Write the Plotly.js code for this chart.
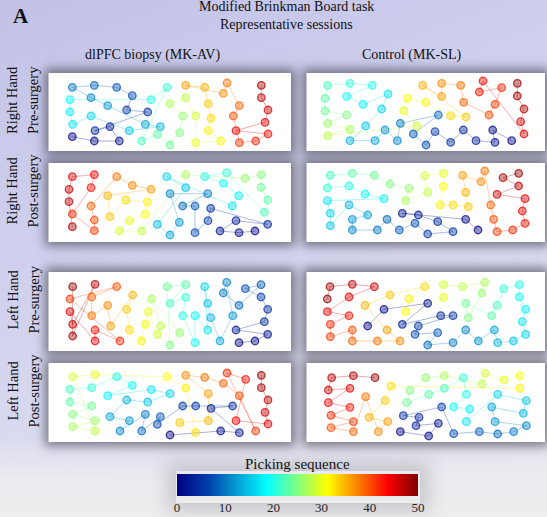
<!DOCTYPE html>
<html><head><meta charset="utf-8">
<script src="https://cdn.plot.ly/plotly-3.0.1.min.js"></script>
<style>
html,body{margin:0;padding:0;}
body{width:547px;height:517px;overflow:hidden;position:relative;
background:
 linear-gradient(to bottom, rgba(236,236,240,0) 84%, rgba(236,236,240,0.95) 93%, rgba(238,238,240,1) 100%),
 linear-gradient(160deg,#c2c2e8 0%,#cfcfee 35%,#dadaf0 65%,#e4e4ee 100%);}
.sh{position:absolute;background:#fff;box-shadow:0 0 10px 4px rgba(55,55,65,0.62);}
.cbs{position:absolute;background:rgba(0,0,0,0);box-shadow:0 0 18px 9px rgba(110,110,120,0.28);}
#plot{position:absolute;left:0;top:0;width:547px;height:517px;}
</style></head><body>
<div id="shadows"></div>
<div id="plot"></div>
<script>
// ---- text ----
const colLabels = ['dlPFC biopsy (MK-AV)', 'Control (MK-SL)'];
const rowLabelsTop = ['Right Hand', 'Right Hand', 'Left Hand', 'Left Hand'];
const rowLabelsBottom = ['Pre-surgery', 'Post-surgery', 'Pre-surgery', 'Post-surgery'];
const colorbarTitle = 'Picking sequence';
const colorbarTicks = [0, 10, 20, 30, 40, 50];

// ---- board positions in picking order (array index = picking sequence) ----
const p1X = [97,163,238,210,165,323,260,277,230,163,97,153,203,316,361,268,153,98,90,90,333,381,305,352,390,419,428,390,437,467,467,542,505,513,505,494,437,550,561,598,580,598,647,684,588,675,684,664,664];
const p1Y = [200,213,213,170,182,126,120,77,52,46,52,83,107,163,170,182,138,163,126,89,89,52,213,193,225,188,138,101,83,138,218,213,182,145,101,52,46,70,39,107,138,218,213,192,182,157,120,83,46];

const p2X = [650,593,600,543,505,467,420,393,355,430,316,307,270,240,165,212,260,279,204,155,232,165,98,90,90,155,98,165,98,365,326,338,392,467,513,383,440,440,497,506,582,600,620,553,564,687,677,687,667,667];
const p2Y = [212,180,217,212,180,217,185,225,192,135,160,212,180,212,212,168,117,72,103,79,46,40,46,85,123,135,160,178,197,168,122,85,97,137,141,46,79,40,46,97,135,103,53,66,33,192,155,117,78,40];

const p3X = [645,597,540,588,683,512,504,465,465,428,503,390,418,390,352,437,380,577,596,550,494,560,673,683,663,663,615,437,305,238,268,315,322,258,210,203,333,277,230,153,163,163,97,153,163,97,87,87,97];
const p3Y = [213,218,213,182,193,145,182,218,138,138,101,101,187,225,193,83,50,138,107,70,50,38,157,120,82,44,55,44,213,213,182,163,126,120,170,107,88,76,50,138,180,212,162,83,44,50,88,125,200];

const p4X = [549,512,322,370,428,474,398,360,313,276,247,172,172,218,162,106,106,97,267,210,162,97,106,172,238,285,342,332,398,389,445,445,436,474,520,512,503,558,569,587,596,606,653,690,682,690,606,671,624,671];
const p4Y = [210,178,160,165,185,215,222,190,210,178,210,210,178,165,135,197,160,122,116,102,78,84,46,40,46,72,85,122,97,47,40,79,135,135,140,97,46,65,33,135,178,215,210,190,153,116,103,78,53,40];

const p5X = [597,645,683,588,673,683,663,616,663,597,550,560,578,540,512,503,494,503,465,465,428,437,390,437,381,390,419,335,362,352,325,316,305,268,260,278,212,203,155,155,230,90,240,165,165,90,98,165,98,98];
const p5Y = [233,228,208,195,170,133,96,71,59,121,84,52,152,228,158,115,65,195,152,233,152,97,115,59,65,240,203,102,183,208,140,178,228,195,133,90,183,121,152,96,65,102,228,195,228,140,178,58,213,65];

const p6X = [218,267,398,322,437,474,370,360,428,398,474,512,550,598,608,655,692,682,692,673,673,626,606,590,512,520,560,569,503,445,445,332,342,389,285,210,276,315,247,172,172,106,106,162,97,162,238,172,105,97];
const p6Y = [183,133,115,178,152,152,183,208,203,240,233,195,228,195,233,228,208,170,133,96,59,71,121,152,115,158,84,52,65,59,97,140,102,65,90,121,195,228,228,228,195,215,178,152,140,96,65,58,65,102];

const p7X = [390,542,598,513,578,467,428,352,361,305,316,240,268,210,260,323,390,334,203,277,230,155,90,90,155,98,165,98,165,98,165,381,437,467,419,505,505,437,494,550,598,647,561,617,588,684,675,684,664,664];
const p7Y = [225,213,218,145,138,138,138,193,170,213,163,213,182,170,120,126,101,89,107,76,50,83,88,126,138,163,182,200,213,50,44,50,84,218,188,182,101,46,52,70,107,213,39,58,182,192,157,120,83,46];

const p8X = [316,401,430,363,372,325,440,476,553,608,656,694,600,590,685,694,608,514,524,476,514,505,448,401,335,345,392,448,562,570,627,675,675,288,270,222,278,250,212,175,108,175,108,165,100,165,100,110,175,240];
const p8Y = [215,228,190,197,172,167,141,221,215,222,215,197,185,141,160,122,103,185,147,141,103,53,85,103,128,91,53,47,72,40,60,47,85,78,122,172,185,215,110,215,203,185,166,142,128,85,90,53,47,53];

// ---- layout geometry (pixels) ----
const W = 547, H = 517;
const rowsPx = [[73,151],[163,242],[272,351],[363,442]];
const colsPx = [[48.5,291],[306.5,545]];
const cropOrigins = [[40,70],[295,70],[40,160],[295,160],[40,265],[295,265],[40,360],[295,360]];
const panelData = [[p1X,p1Y],[p2X,p2Y],[p3X,p3Y],[p4X,p4Y],[p5X,p5Y],[p6X,p6Y],[p7X,p7Y],[p8X,p8Y]];
const FONT = 'Liberation Serif, Times New Roman, serif';

const jetStops = [[0,[0,0,131]],[0.125,[0,60,170]],[0.375,[5,255,255]],[0.625,[255,255,0]],[0.875,[250,0,0]],[1,[128,0,0]]];
function jet(t){
  t = Math.max(0, Math.min(1, t));
  for (let k = 1; k < jetStops.length; k++){
    if (t <= jetStops[k][0]){
      const a = jetStops[k-1], b = jetStops[k];
      const f = (t - a[0]) / (b[0] - a[0]);
      return a[1].map((v,j)=>Math.round(v + f*(b[1][j]-v)));
    }
  }
  return jetStops[jetStops.length-1][1];
}
const px = x => x / W, py = y => 1 - y / H;

const shadowDiv = document.getElementById('shadows');
const traces = [];
const layout = {
  width: W, height: H, autosize: false,
  margin: {l:0, r:0, t:0, b:0, pad:0},
  paper_bgcolor: 'rgba(0,0,0,0)', plot_bgcolor: '#ffffff',
  showlegend: false, annotations: [], font: {family: FONT, color: '#111'}
};

panelData.forEach((pd, p) => {
  const r = Math.floor(p/2), c = p % 2;
  const box = [colsPx[c][0], colsPx[c][1], rowsPx[r][0], rowsPx[r][1]];
  const cr = cropOrigins[p];
  const s = p === 0 ? '' : String(p+1);
  const ax = {showgrid:false, zeroline:false, showticklabels:false, ticks:'', showline:false, fixedrange:true};
  layout['xaxis'+s] = Object.assign({}, ax, {domain:[px(box[0]), px(box[1])], range:[(box[0]-cr[0])*3, (box[1]-cr[0])*3], anchor:'y'+s});
  layout['yaxis'+s] = Object.assign({}, ax, {domain:[py(box[3]), py(box[2])], range:[(box[3]-cr[1])*3, (box[2]-cr[1])*3], anchor:'x'+s});
  const d = document.createElement('div');
  d.className = 'sh';
  d.style.left = box[0]+'px'; d.style.top = box[2]+'px';
  d.style.width = (box[1]-box[0])+'px'; d.style.height = (box[3]-box[2])+'px';
  shadowDiv.appendChild(d);

  const X = pd[0], Y = pd[1];
  const seq = X.map((_, i) => i);
  for (let i = 0; i < X.length - 1; i++){
    const col = jet((i + 0.5) / 50);
    traces.push({type:'scatter', mode:'lines', x:[X[i],X[i+1]], y:[Y[i],Y[i+1]],
      xaxis:'x'+s, yaxis:'y'+s, hoverinfo:'skip',
      line:{color:`rgba(${col[0]},${col[1]},${col[2]},0.33)`, width:1}});
  }
  traces.push({type:'scatter', mode:'markers', x:X, y:Y, xaxis:'x'+s, yaxis:'y'+s,
    marker:{color:seq, colorscale:'Jet', cmin:0, cmax:50, size:7.5, opacity:0.42, line:{width:0}}});
  const outline = {type:'scatter', mode:'markers', x:X, y:Y, xaxis:'x'+s, yaxis:'y'+s,
    marker:{symbol:'circle-open', color:seq, colorscale:'Jet', cmin:0, cmax:50, size:7.5, opacity:0.72, line:{width:1.3}}};
  if (p === 0){
    outline.marker.showscale = true;
    outline.marker.colorbar = {
      orientation:'h', x:px(297.5), xanchor:'center', y:py(474), yanchor:'top',
      len:241, lenmode:'pixels', thickness:22, thicknessmode:'pixels',
      outlinewidth:0, xpad:0, ypad:0, tickvals:colorbarTicks, ticks:'',
      tickfont:{family:FONT, size:13, color:'#222'},
      title:{text:''}
    };
  }
  traces.push(outline);
});

// colorbar shadow
const cbs = document.createElement('div');
cbs.className = 'cbs';
cbs.style.left = '176px'; cbs.style.top = '471px'; cbs.style.width = '244px'; cbs.style.height = '32px';
shadowDiv.appendChild(cbs);

const ann = (text, x, y, size, extra) => Object.assign({text, x:px(x), y:py(y), xref:'paper', yref:'paper',
  showarrow:false, xanchor:'center', yanchor:'middle', font:{family:FONT, size, color:'#111'}}, extra || {});
layout.annotations.push(ann('<b>A</b>', 21, 16, 21));
layout.annotations.push(ann('Modified Brinkman Board task', 286, 6.5, 14));
layout.annotations.push(ann('Representative sessions', 286.5, 24.5, 14));
layout.annotations.push(ann(colLabels[0], 152.5, 55, 14));
layout.annotations.push(ann(colLabels[1], 411.5, 55, 14));
layout.annotations.push(ann(colorbarTitle, 298, 464, 15));
const labelCenters = [100, 190.5, 299.5, 390.5];
for (let r = 0; r < 4; r++){
  layout.annotations.push(ann(rowLabelsTop[r], 12, labelCenters[r], 14.5, {textangle:-90}));
  layout.annotations.push(ann(rowLabelsBottom[r], 33, labelCenters[r], 14.5, {textangle:-90}));
}

Plotly.newPlot('plot', traces, layout, {staticPlot:true, displayModeBar:false});
</script></body></html>
